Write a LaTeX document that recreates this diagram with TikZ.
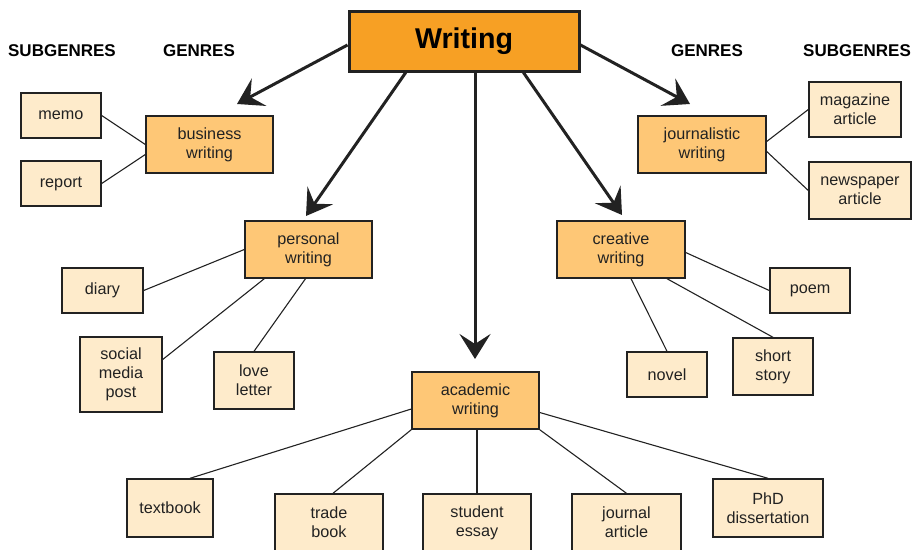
\documentclass[tikz,border=0pt]{standalone}
\usepackage{fontspec}
\setmainfont{Liberation Sans}
\usetikzlibrary{arrows.meta,calc}
\definecolor{inkc}{HTML}{222222}
\definecolor{rootfill}{HTML}{F7A024}
\definecolor{genrefill}{HTML}{FEC776}
\definecolor{subfill}{HTML}{FEEBCB}
\tikzset{
  wh/.style 2 args={minimum width=#1pt, minimum height=#2pt},
  box/.style={draw=inkc, line width=1.4pt, inner sep=0pt, align=center,
    text=inkc, font=\fontsize{16.2}{19.3}\selectfont},
  genre/.style={box, fill=genrefill},
  sub/.style={box, fill=subfill},
  head/.style={font=\fontsize{17}{20}\selectfont\bfseries, text=black},
  bigarrow/.style={draw=inkc, line width=3pt,
    -{Stealth[length=25pt,width=31pt,inset=10pt]}},
  link/.style={draw=inkc, line width=1.1pt},
}
\begin{document}
\begin{tikzpicture}[x=1pt,y=-1pt]
\useasboundingbox (0,0) rectangle (912,549);

% column headings
\node[head] (hsl) at (62,51) {SUBGENRES};
\node[head] (hgl) at (199,51) {GENRES};
\node[head] (hgr) at (707,51) {GENRES};
\node[head] (hsr) at (857,51) {SUBGENRES};

% root
\node[box, fill=rootfill, line width=3pt, wh={230}{60},
  font=\fontsize{28.6}{32}\selectfont\bfseries, text=black] (W) at (464,41) {Writing};

% genres
\node[genre, wh={127}{57}] (bw) at (209.5,144.5) {business\\writing};
\node[genre, wh={128}{57}] (jw) at (702,144.5) {journalistic\\writing};
\node[genre, wh={127}{57}] (pw) at (308.5,249.5) {personal\\writing};
\node[genre, wh={128}{57}] (cw) at (621,249.5) {creative\\writing};
\node[genre, wh={127}{57}] (aw) at (475.5,400.5) {academic\\writing};

% subgenres
\node[sub, wh={80}{45}] (mm) at (61,115.5) {memo};
\node[sub, wh={80}{45}] (rp) at (61,183.5) {report};
\node[sub, wh={92}{55}] (mg) at (855,109.5) {magazine\\article};
\node[sub, wh={102}{57}] (np) at (860,190.5) {newspaper\\article};
\node[sub, wh={81}{45}] (dy) at (102.5,290.5) {diary};
\node[sub, wh={82}{75}] (sm) at (121,374.5) {social\\media\\post};
\node[sub, wh={80}{57}] (ll) at (254,380.5) {love\\letter};
\node[sub, wh={80}{45}] (pm) at (810,290.5) {poem};
\node[sub, wh={80}{45}] (nv) at (667,374.5) {novel};
\node[sub, wh={80}{57}] (ss) at (773,366.5) {short\\story};
\node[sub, wh={86}{58}] (tb) at (170,508) {textbook};
\node[sub, wh={108}{57}] (tr) at (329,522.5) {trade\\book};
\node[sub, wh={108}{57}] (se) at (477,522.5) {student\\essay};
\node[sub, wh={109}{57}] (ja) at (626.5,522.5) {journal\\article};
\node[sub, wh={110}{58}] (phd) at (768,508) {PhD\\dissertation};

% arrow tips above the genre boxes
\coordinate (tbw) at (237,104);
\coordinate (tpw) at (306,216);
\coordinate (taw) at (475,359);
\coordinate (tcw) at (622,215);
\coordinate (tjw) at (690,104);

\draw[bigarrow] ($(W.west)+(0,4)$) -- (tbw);
\draw[bigarrow] ($(W.south west)!0.25!(W.south east)$) -- (tpw);
\draw[bigarrow] (W.south -| taw) -- (taw);
\draw[bigarrow] ($(W.south west)!0.755!(W.south east)$) -- (tcw);
\draw[bigarrow] ($(W.east)+(0,4)$) -- (tjw);

% genre to subgenre links
\draw[link] (mm.east) -- (bw.west);
\draw[link] (rp.east) -- ($(bw.west)+(0,10)$);
\draw[link] ($(jw.east)+(0,-3)$) -- (mg.west);
\draw[link] ($(jw.east)+(0,7)$) -- (np.west);
\draw[link] (dy.east) -- (pw.west);
\draw[link] ($(sm.east)+(0,-15)$) -- ($(pw.south west)+(20,0)$);
\draw[link] (ll.north) -- ($(pw.south)+(-3,0)$);
\draw[link] (pm.west) -- ($(cw.east)+(0,3)$);
\draw[link] (ss.north) -- ($(cw.south)+(46,0)$);
\draw[link] (nv.north) -- ($(cw.south)+(10,0)$);
\draw[link] ($(tb.north)+(20,0)$) -- ($(aw.west)+(0,8.5)$);
\draw[link] ($(tr.north)+(4,0)$) -- (aw.south west);
\draw[link] (se.north) -- (se.north |- aw.south);
\draw[link] (ja.north) -- (aw.south east);
\draw[link] (phd.north) -- ($(aw.east)+(0,12)$);
\end{tikzpicture}
\end{document}
